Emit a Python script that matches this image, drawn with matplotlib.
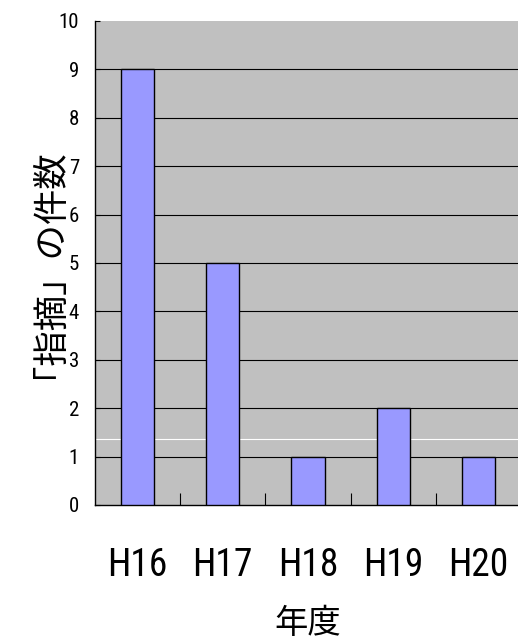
import matplotlib
matplotlib.use("Agg")
import matplotlib.pyplot as plt
from matplotlib.ticker import FixedLocator

years = ["H16", "H17", "H18", "H19", "H20"]
counts = [9, 5, 1, 2, 1]
y_ticks = list(range(0, 11))

narrow = ["Roboto Condensed", "Liberation Sans Narrow", "DejaVu Sans Condensed", "Roboto", "DejaVu Sans"]
cjk = ["Noto Sans CJK JP", "DejaVu Sans"]

fig = plt.figure(figsize=(5.18, 6.37), dpi=100)
ax = fig.add_axes([95 / 518, 1 - 505 / 637, (521 - 95) / 518, (505 - 21) / 637])
ax.set_facecolor("#C0C0C0")

x = list(range(len(years)))
ax.bar(x, counts, width=0.39, color="#9999FF", edgecolor="black", linewidth=1.0, zorder=3)

# horizontal grid lines at each integer value
for v in y_ticks[1:-1]:
    ax.axhline(v, color="black", linewidth=0.8, zorder=1)
ax.axhline(1.37, color="white", linewidth=0.8, zorder=1)

ax.set_xlim(-0.5, len(years) - 0.5)
ax.set_ylim(0, 10)

for s in ["top", "right"]:
    ax.spines[s].set_visible(False)
for s in ["left", "bottom"]:
    ax.spines[s].set_color("black")
    ax.spines[s].set_linewidth(1.0)

ax.set_yticks(y_ticks)
ax.set_yticklabels([str(t) for t in y_ticks], family=narrow, fontsize=15)
ax.tick_params(axis="y", direction="in", length=3.5, width=0.8, pad=11.5)

ax.set_xticks(x)
ax.set_xticklabels(years, family=narrow, fontsize=27)
ax.tick_params(axis="x", which="major", length=0, pad=30)
ax.xaxis.set_minor_locator(FixedLocator([i + 0.5 for i in x[:-1]]))
ax.tick_params(axis="x", which="minor", direction="in", length=8.5, width=0.8)

fig.text(31 / 518, 1 - 254 / 637, "「指摘」の件数", rotation=90, ha="center", va="center",
         family=cjk, fontsize=25.5)
fig.text(308 / 518, 1 - 624 / 637, "年度", ha="center", va="center", family=cjk, fontsize=24)

fig.savefig("out.png", dpi=100)
